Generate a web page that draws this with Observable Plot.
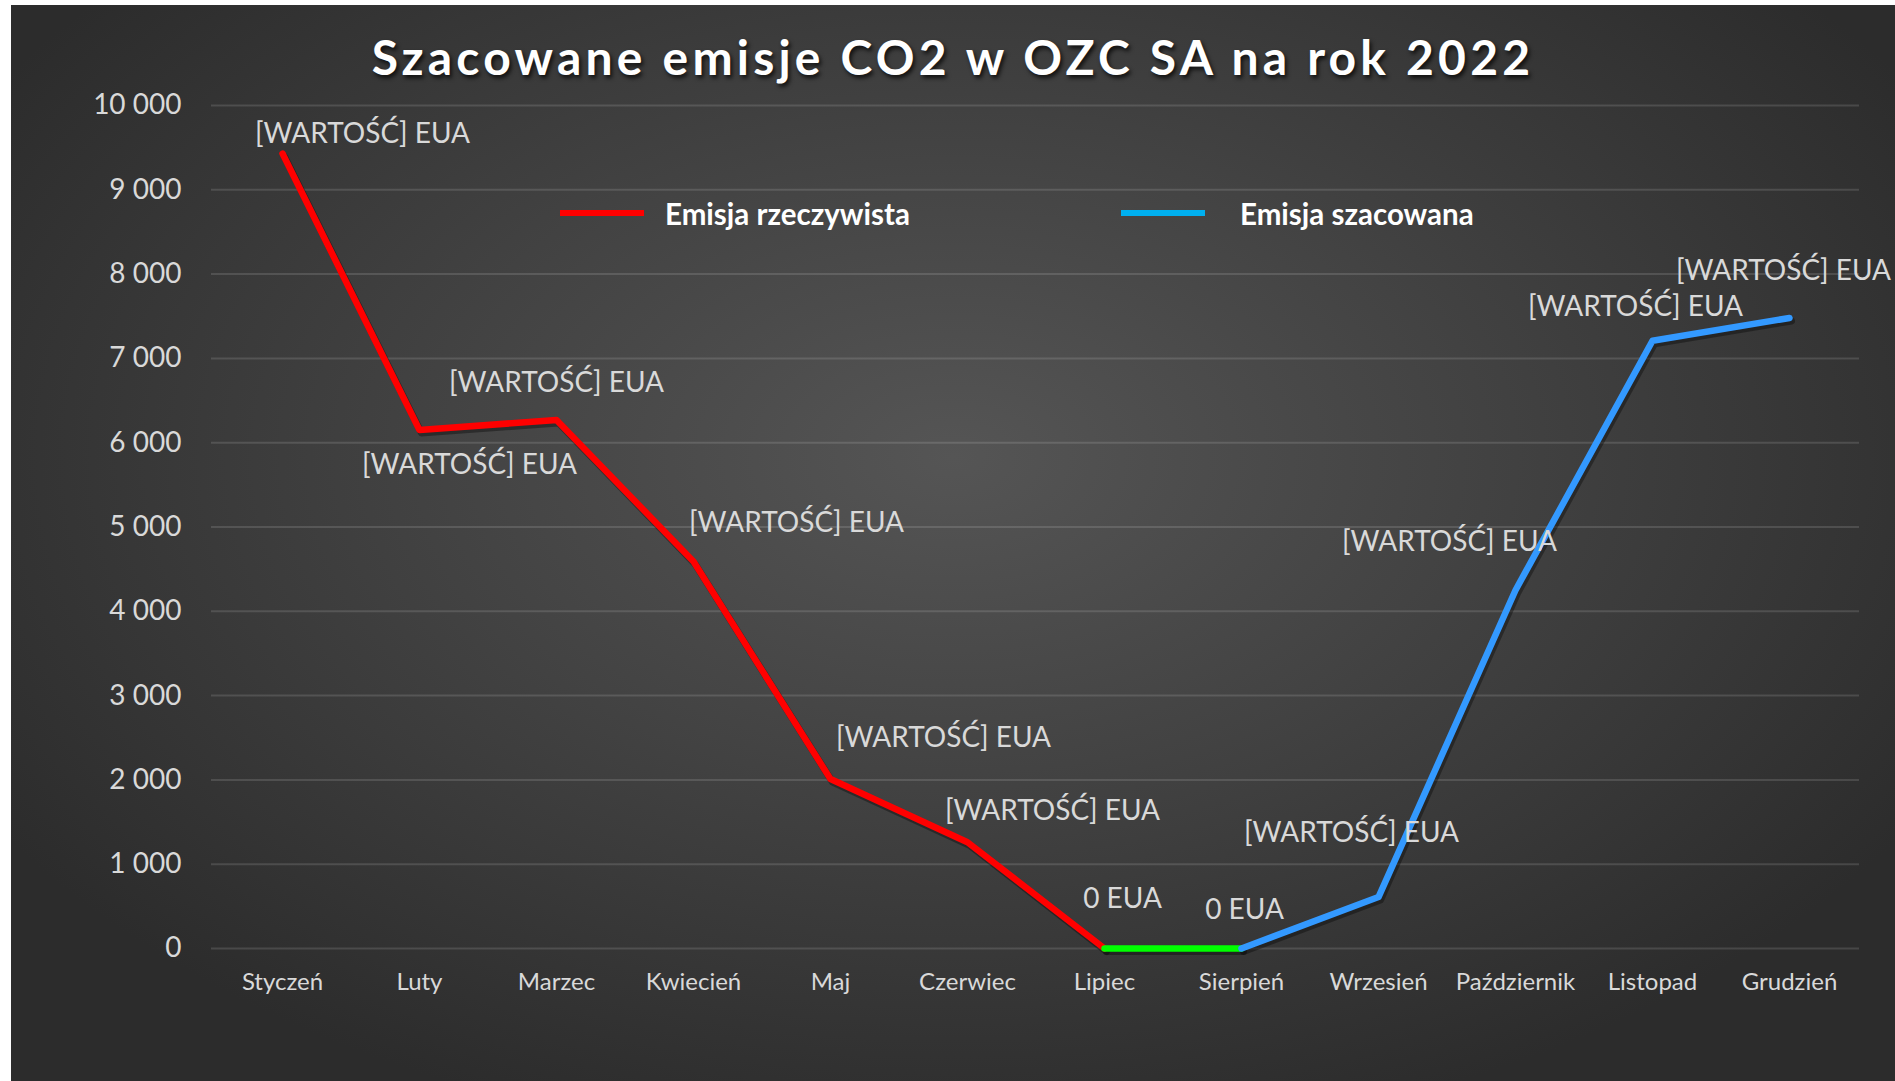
<!DOCTYPE html>
<html>
<head>
<meta charset="utf-8">
<script src="https://cdn.jsdelivr.net/npm/d3@7"></script>
<script src="https://cdn.jsdelivr.net/npm/@observablehq/plot@0.6"></script>
<style>
  html, body { margin: 0; padding: 0; background: #ffffff; }
  #wrap {
    position: absolute; left: 11px; top: 5px; width: 1884px; height: 1076px;
    background: radial-gradient(ellipse 60% 65% at 50% 42%, #555555 0%, #434343 45%, #2c2c2c 100%);
    overflow: hidden;
    font-family: Lato, "Open Sans", sans-serif;
  }
  #title {
    height: 60px; position: relative;
    color: #ffffff; font-weight: bold; font-size: 48px; letter-spacing: 4.2px;
    text-shadow: 2px 3px 4px rgba(0,0,0,0.75);
  }
  #title span { position: absolute; left: 0; right: 0; text-align: center; top: 24px; line-height: 56px; }
  .leg { position: absolute; display: flex; align-items: center; color: #ffffff; font-weight: bold; font-size: 29.5px; }
  .sw { display: inline-block; height: 6px; margin-right: 21px; }
</style>
</head>
<body>
<div id="wrap">
  <div id="title"><span>Szacowane emisje CO2 w OZC SA na rok 2022</span></div>
  <div id="chart"></div>
</div>
<script>
const months = ["Styczeń","Luty","Marzec","Kwiecień","Maj","Czerwiec","Lipiec","Sierpień","Wrzesień","Październik","Listopad","Grudzień"];
const actual    = [9430, 6150, 6270, 4590, 2010, 1260, 0, null, null, null, null, null];
const estimated = [null, null, null, null, null, null, null, 0, 610, 4250, 7210, 7480];
const labelTexts = ["[WARTOŚĆ] EUA","[WARTOŚĆ] EUA","[WARTOŚĆ] EUA","[WARTOŚĆ] EUA","[WARTOŚĆ] EUA","[WARTOŚĆ] EUA","0 EUA","0 EUA","[WARTOŚĆ] EUA","[WARTOŚĆ] EUA","[WARTOŚĆ] EUA","[WARTOŚĆ] EUA"];
const yTicks = [0, 1000, 2000, 3000, 4000, 5000, 6000, 7000, 8000, 9000, 10000];
const seriesNames = ["Emisja rzeczywista", "Emisja szacowana"];
const seriesColors = ["#ff0000", "#3399ff"];
const legendColors = ["#ff0000", "#00b0f0"];
const bridgeColor = "#00ff00";
// label offsets in px relative to each point (label layout)
const labelOffsets = [[80,-20],[50,35],[0,-37],[103,-39],[113,-41],[85,-31],[18,-49],[3,-38],[-27,-64],[-66,-48],[-17,-34],[-6,-47]];

const actualData = months.map((m, i) => ({month: m, value: actual[i]})).filter(d => d.value != null);
const estData = months.map((m, i) => ({month: m, value: estimated[i]})).filter(d => d.value != null);
const bridgeData = [actualData[actualData.length - 1], estData[0]];
const allValues = months.map((m, i) => ({month: m, value: actual[i] != null ? actual[i] : estimated[i], label: labelTexts[i], i}));

const fmt = d => d3.format(",")(d).replace(/,/g, " ");

const shadow = (data) => Plot.line(data, {x: "month", y: "value", stroke: "#000", strokeOpacity: 0.35, strokeWidth: 7, dx: 2, dy: 3, strokeLinecap: "round", strokeLinejoin: "round"});

const labelMarks = allValues.map(d => Plot.text([d], {
  x: "month", y: "value", text: "label",
  dx: labelOffsets[d.i][0], dy: labelOffsets[d.i][1],
  fill: "#d9d9d9", fontSize: 28, textAnchor: "middle"
}));

const chart = Plot.plot({
  width: 1884,
  height: 1016,
  marginLeft: 200,
  marginRight: 36,
  marginTop: 40,
  marginBottom: 133,
  style: {background: "transparent", color: "#d9d9d9", fontFamily: "Lato, 'Open Sans', sans-serif"},
  x: {type: "point", domain: months, padding: 0.5, label: null},
  y: {domain: [0, 10000], label: null},
  marks: [
    Plot.gridY(yTicks, {stroke: "#ffffff", strokeOpacity: 0.13, strokeWidth: 2}),
    Plot.axisY(yTicks, {tickSize: 0, tickPadding: 30, fontSize: 28, tickFormat: fmt, fill: "#d9d9d9"}),
    Plot.axisX({tickSize: 0, tickPadding: 24, fontSize: 24, fill: "#d9d9d9"}),
    shadow(actualData), shadow(bridgeData), shadow(estData),
    Plot.line(actualData, {x: "month", y: "value", stroke: seriesColors[0], strokeWidth: 6.5, strokeLinecap: "round", strokeLinejoin: "round"}),
    Plot.line(bridgeData, {x: "month", y: "value", stroke: bridgeColor, strokeWidth: 6.5, strokeLinecap: "round", strokeLinejoin: "round"}),
    Plot.line(estData, {x: "month", y: "value", stroke: seriesColors[1], strokeWidth: 6.5, strokeLinecap: "round", strokeLinejoin: "round"}),
    ...labelMarks
  ]
});
document.getElementById("chart").appendChild(chart);

// legend overlay (inside plot area, as in the reference)
const wrap = document.getElementById("wrap");
const legPos = [[549, 208], [1110, 208]];
seriesNames.forEach((name, i) => {
  const el = document.createElement("div");
  el.className = "leg";
  el.style.left = legPos[i][0] + "px";
  el.style.top = (legPos[i][1] - 18) + "px";
  el.style.height = "36px";
  const sw = document.createElement("span");
  sw.className = "sw";
  sw.style.width = "84px";
  sw.style.background = legendColors[i];
  el.appendChild(sw);
  const t = document.createElement("span");
  t.textContent = name;
  if (i === 1) sw.style.marginRight = "35px";
  el.appendChild(t);
  wrap.appendChild(el);
});
</script>
</body>
</html>
